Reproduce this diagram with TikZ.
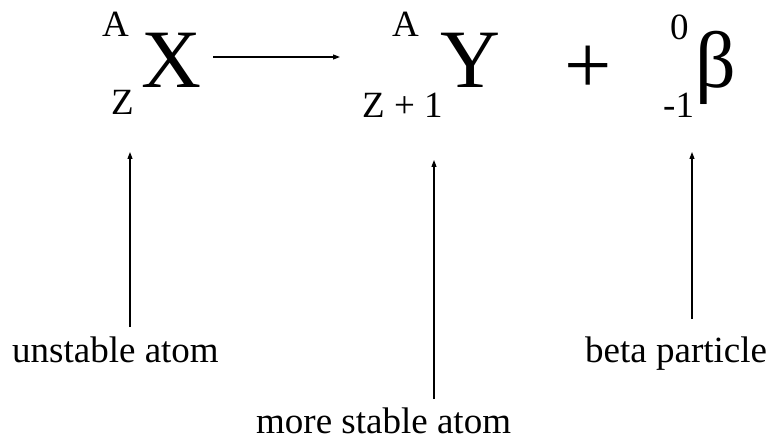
\documentclass[tikz,border=0pt]{standalone}
\usepackage{fontspec}
\setmainfont{Liberation Serif}
\usetikzlibrary{arrows.meta}
\tikzset{
  big/.style={inner sep=0pt, anchor=base west, font=\fontsize{83}{83}\selectfont},
  scr/.style={inner sep=0pt, anchor=base west, font=\fontsize{37}{37}\selectfont},
  lbl/.style={inner sep=0pt, anchor=base west, font=\fontsize{37}{37}\selectfont},
  ptr/.style={line width=1.1pt, -{Triangle[length=7pt,width=5pt]}}
}
\begin{document}
\begin{tikzpicture}[x=1pt,y=1pt]
\useasboundingbox (0,0) rectangle (769,440);
% equation
\node[scr] (a1) at (102,403) {A};
\node[big] (x) at (141,352) {X};
\node[scr] (z1) at (111,325) {Z};
\node[scr] (a2) at (392,403) {A};
\node[big] (y) at (440,352) {Y};
\node[scr] (z2) at (362,322) {Z + 1};
\node[inner sep=0pt, font=\fontsize{84}{84}\selectfont] (plus) at (588,370) {+};
\node[scr] (zero) at (670,400) {0};
\node[big, font=\fontsize{80}{80}\selectfont] (beta) at (695,352) {β};
\node[scr] (m1) at (663,322) {-1};
% reaction arrow
\coordinate (rs) at (213,383);
\coordinate (re) at (340,383);
\draw[ptr] (rs) -- (re);
% labels
\node[lbl] (lu) at (12,78) {unstable atom};
\node[lbl] (lb) at (585,78) {beta particle};
\node[lbl] (lm) at (256,7) {more stable atom};
% pointer arrows
\coordinate (p1s) at (130,113);
\coordinate (p1e) at (130,288);
\coordinate (p2s) at (434,41);
\coordinate (p2e) at (434,280);
\coordinate (p3s) at (692,121);
\coordinate (p3e) at (692,288);
\draw[ptr] (p1s) -- (p1e);
\draw[ptr] (p2s) -- (p2e);
\draw[ptr] (p3s) -- (p3e);
\end{tikzpicture}
\end{document}
